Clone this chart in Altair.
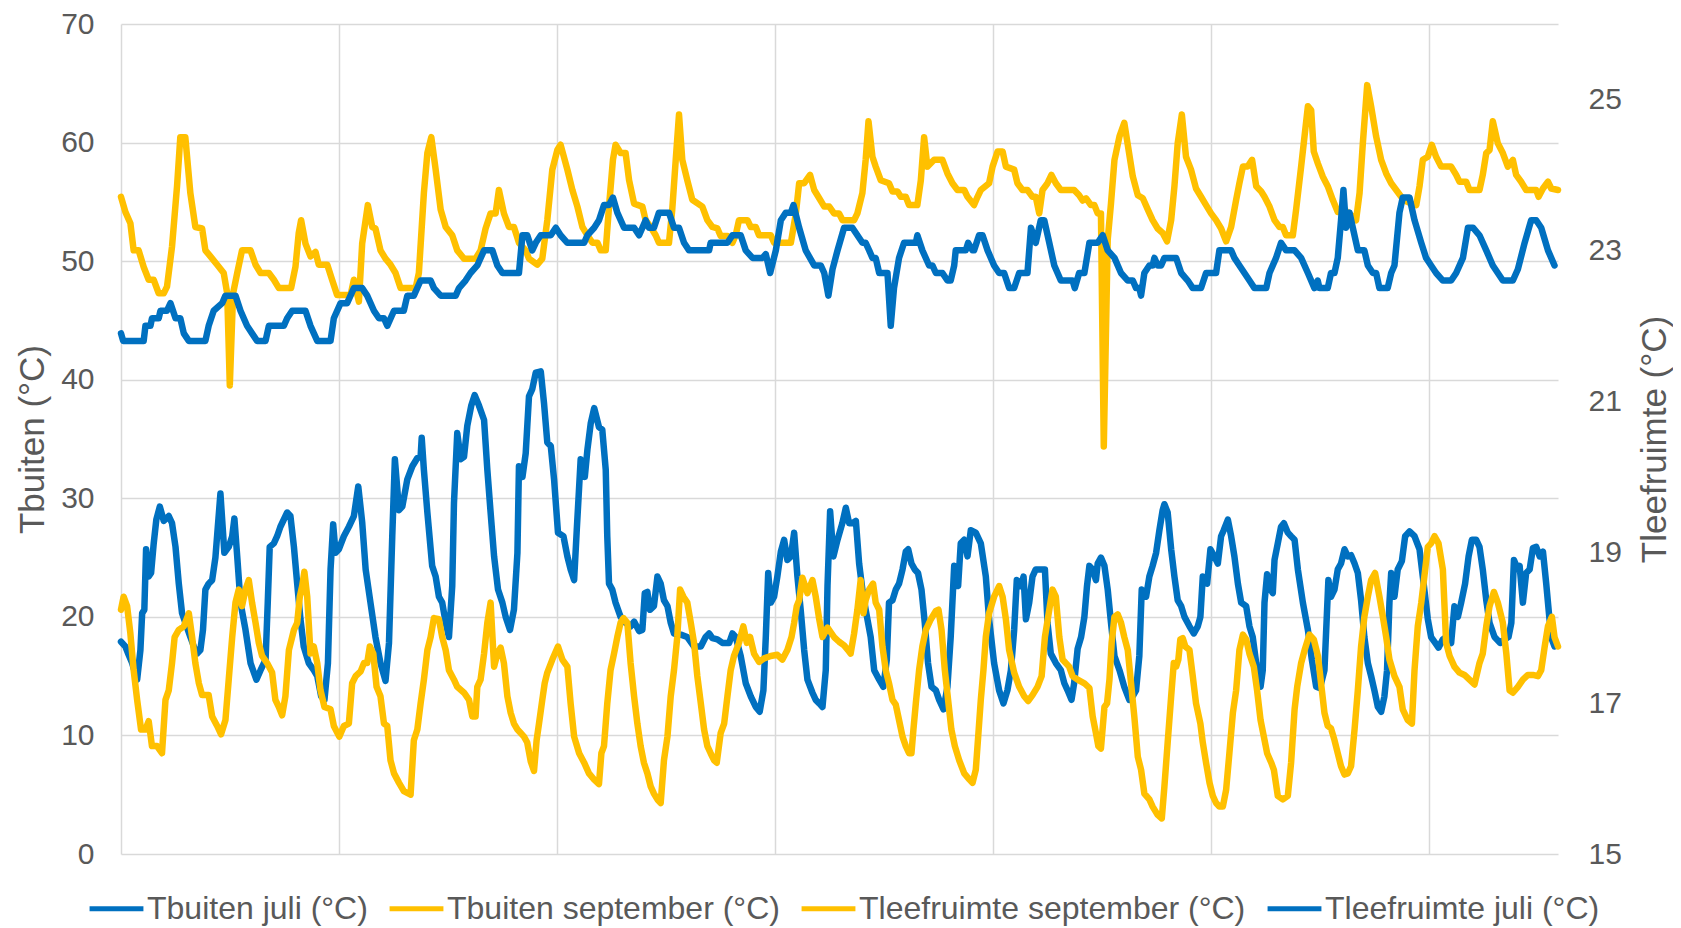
import altair as alt
import pandas as pd

# ---------------- data (hour index, temperature) ----------------
tbuiten_juli = [(0,17.9),(2,17.5),(3.5,16.8),(5.1,16.1),(7.4,14.7),(8.9,17.2),(9.7,20.3),(10.7,20.6),(11.5,25.7),(12.7,23.4),(13.8,23.7),(15,26.2),(16.2,28.2),(17.8,29.3),(19.6,28.1),(21.9,28.5),(23.4,27.9),(25,25.9),(26.5,22.8),(28,20.3),(29.5,19.5),(31.8,18.3),(33.4,17.5),(34.9,16.9),(36.4,17.2),(37.6,18.9),(38.7,22.3),(40.2,22.8),(41.8,23.1),(43.3,25.0),(44.4,27.6),(45.6,30.4),(47.4,25.4),(49.4,25.9),(51,26.8),(52,28.3),(53.3,25.1),(54.8,21.2),(57.1,18.9),(59.4,16.1),(62.1,14.7),(64,15.5),(66.3,16.4),(67.3,21.2),(68.2,25.9),(70.1,26.2),(71.6,26.8),(73.1,27.6),(76.2,28.8),(77.7,28.5),(79.3,25.9),(80.8,22.8),(82.3,19.8),(83.8,17.5),(86.1,16.1),(88.4,15.5),(90,15.0),(91.8,13.3),(93.3,13.0),(94.9,16.1),(96.1,24.0),(97.3,27.8),(98.4,25.4),(99.9,25.7),(102.2,26.8),(104.5,27.6),(106.8,28.5),(108.8,31.0),(110.6,28.0),(112.2,24.0),(114.4,21.2),(116.7,18.3),(119,16.1),(121.3,14.6),(122.9,17.8),(124.4,26.8),(125.6,33.3),(127.5,29.0),(129,29.3),(131.3,31.6),(133.6,32.7),(135.9,33.4),(137.4,33.5),(137.9,35.1),(138.9,32.4),(140.5,28.8),(142.7,24.3),(144.3,23.4),(145.8,21.7),(147.3,21.2),(148.9,19.5),(150.4,18.3),(151.9,22.6),(152.7,29.6),(154.2,35.5),(155.8,33.3),(157.3,33.5),(158.8,36.1),(160.6,37.8),(162.2,38.7),(164.2,37.8),(166.5,36.6),(168,32.4),(169.5,28.8),(171.1,25.1),(172.9,22.3),(174.9,21.2),(176.4,20.0),(178.4,18.9),(180.2,20.6),(181.8,25.4),(182.5,32.7),(184.1,31.8),(185.6,33.8),(187.1,38.6),(188.6,39.2),(190.2,40.6),(192.5,40.7),(194,38.0),(195.5,34.7),(197.1,34.4),(198.6,31.6),(200.4,27.1),(202.9,26.8),(204.7,25.1),(206.2,24.0),(207.8,23.1),(209,27.3),(210.8,33.3),(212.7,31.8),(213.9,34.1),(215.4,36.3),(217,37.6),(219.2,36.0),(220.7,35.8),(222.3,32.4),(223,26.8),(223.8,22.8),(225.3,22.3),(226.8,21.2),(229.1,20.0),(231.4,19.5),(233.7,19.2),(235.3,19.6),(237.6,18.8),(239.1,18.9),(240.2,22.0),(241.4,22.1),(242.6,20.6),(244.4,20.9),(246,23.4),(247.5,22.8),(249,21.4),(250.6,20.9),(252.1,19.5),(253.6,18.6),(256.7,18.5),(259.7,18.3),(262.8,17.5),(265.9,17.5),(268.1,18.3),(269.7,18.6),(271.2,18.2),(273.5,18.1),(275.8,17.8),(278.9,17.8),(280.4,18.6),(281.9,18.3),(284.2,16.7),(286.5,14.4),(288.8,13.3),(291.1,12.4),(292.9,12.0),(294.6,13.8),(295.7,18.3),(296.8,23.7),(298,21.2),(299.5,21.7),(301,23.4),(302.6,25.5),(304.1,26.5),(305.6,24.8),(307.2,25.1),(308.7,27.1),(310.2,23.4),(311.7,20.6),(313.3,17.2),(314.8,14.7),(317.1,13.6),(318.6,13.0),(320.2,12.7),(321.7,12.4),(323.2,15.5),(324,22.6),(325.2,28.9),(326.7,25.1),(328.6,26.5),(330.8,27.9),(332.4,29.2),(333.9,27.9),(335.4,27.9),(337,28.1),(338.5,24.5),(340,22.3),(341.5,20.6),(343.8,18.3),(345.4,15.5),(347.7,14.7),(349.6,14.1),(351.2,16.4),(352.2,21.2),(353.8,21.4),(355.3,22.3),(356.8,22.8),(358.4,24.0),(359.9,25.5),(361,25.7),(362.5,24.5),(364,24.0),(365.5,23.7),(367.1,22.3),(368.6,19.5),(370.1,16.1),(371.7,14.1),(373.7,13.8),(375.2,13.0),(377.2,12.2),(379,14.1),(380.5,18.3),(382.1,24.3),(383.9,22.6),(385.1,26.2),(386.7,26.5),(388.2,25.1),(389.7,27.3),(392,27.1),(394.3,26.2),(396.6,23.4),(398.1,19.8),(400.4,16.1),(402.7,13.8),(404.7,12.7),(406.5,13.8),(408.1,15.5),(409.6,18.9),(410.8,23.1),(412.7,22.6),(413.9,23.4),(415,19.8),(416.5,21.2),(418,23.4),(419.5,24.0),(421.8,24.0),(423.7,24.0),(424.9,19.5),(426.4,16.9),(428.7,16.1),(431,15.5),(432.6,14.4),(434.1,13.8),(435.9,13.0),(437.1,14.4),(438.7,17.3),(440.3,18.3),(441.8,20.0),(443,22.6),(444.1,24.3),(445.6,24.0),(447.1,23.1),(447.9,24.5),(449.4,25.0),(451,24.3),(452.5,22.3),(454,19.5),(455.6,16.7),(457.9,15.5),(460.1,14.1),(462.4,13.0),(464,13.3),(465.5,13.8),(467,16.7),(468.1,22.3),(470.1,21.7),(471.6,23.4),(473.1,24.3),(474.7,25.4),(476.2,27.3),(477.7,29.0),(478.5,29.5),(480,28.8),(481.6,25.7),(483.1,23.4),(484.6,21.4),(486.2,20.9),(487.7,20.0),(490,19.2),(492,18.6),(493.8,19.2),(495,20.0),(496.1,23.4),(498.1,22.8),(499.6,25.7),(501.4,25.1),(503,24.5),(504.5,26.8),(505.7,27.3),(507.6,28.2),(509.1,26.8),(510.6,25.1),(512.2,22.8),(513.7,21.2),(516,20.9),(517.5,19.2),(519,18.3),(520.6,16.1),(522.6,14.1),(523.6,15.5),(524.4,21.2),(525.6,23.6),(527.2,22.3),(528.2,22.0),(529,24.8),(530.5,26.2),(532,27.6),(533.3,27.9),(535.1,27.1),(536.6,26.8),(538.2,26.5),(539.7,24.0),(542,21.2),(544.3,18.9),(546.1,16.4),(548.1,14.1),(549.6,14.0),(550.4,14.4),(551.9,15.5),(553.1,20.6),(553.7,23.1),(554.9,21.7),(556.5,22.3),(558,24.0),(559.5,24.5),(561.1,25.7),(562.6,25.1),(564.1,25.2),(565.7,24.5),(567.2,23.7),(568.7,21.4),(570.2,18.3),(571.8,16.1),(573.3,15.0),(574.8,13.8),(576.4,12.4),(577.9,12.0),(579.4,13.3),(580.6,15.5),(581.7,21.2),(582.5,23.7),(584,21.7),(585.5,24.0),(587.4,24.7),(588.9,26.8),(590.9,27.2),(593.2,26.8),(595.5,25.7),(597,23.4),(599.3,19.8),(600.8,18.3),(602.7,17.8),(604.2,17.4),(606.2,18.1),(607.7,18.3),(610,17.8),(611.5,20.9),(613.1,20.0),(614.6,21.2),(616.4,22.8),(618,25.1),(619.5,26.5),(621.5,26.5),(623,25.9),(624.5,24.0),(626.1,21.4),(627.6,19.5),(629.9,18.3),(632.5,17.8),(634.5,18.1),(636.3,18.3),(637.6,19.5),(638.8,24.8),(640.6,24.0),(641.4,24.3),(642.9,21.2),(644.4,23.7),(646,24.0),(647.5,25.8),(649,25.9),(650.6,25.1),(652.1,25.5),(653.6,22.8),(655.1,19.8),(656.2,18.1),(657.4,17.5)]

tbuiten_september = [(0,20.6),(1.2,21.7),(2.8,20.9),(4.3,18.6),(5.8,15.5),(7.4,13.0),(9.2,10.5),(11.2,10.5),(12.7,11.2),(14.2,9.1),(16.5,9.1),(18.8,8.5),(20.4,13.0),(21.9,13.8),(23.4,16.1),(24.6,18.3),(26.5,18.9),(28.8,19.2),(31.1,20.3),(32.6,18.3),(34.1,16.1),(35.7,14.4),(37.2,13.4),(40.2,13.4),(41.8,11.6),(44.1,10.8),(45.9,10.1),(47.9,11.3),(49.4,14.7),(51,18.3),(52.5,21.2),(54,22.3),(55.5,20.9),(57.1,22.3),(58.6,23.1),(60.1,21.2),(61.7,19.5),(63.2,17.8),(64.7,16.7),(67,16.1),(69.3,15.3),(70.8,13.0),(72.4,12.4),(73.9,11.7),(75.4,13.3),(77,17.2),(79.3,18.9),(80.8,19.5),(82,21.7),(83.1,22.6),(84.1,23.8),(85.4,21.7),(86.9,16.9),(88.4,17.5),(90,16.1),(91.5,13.8),(93.3,12.4),(96.1,12.2),(97.6,10.8),(100.1,9.9),(102.2,10.8),(104.5,11.0),(106,14.4),(107.6,15.0),(109.9,15.4),(111.4,16.1),(112.9,16.1),(114.1,17.5),(115.7,16.9),(117.2,14.1),(119,13.3),(120.6,11.0),(122.1,10.8),(123.6,7.9),(125.2,6.8),(127.5,6.0),(129.7,5.3),(132.8,5.0),(134.3,9.6),(135.9,10.5),(137.4,12.7),(138.9,14.7),(140.5,17.2),(142,18.3),(143.5,19.9),(145.8,19.8),(147.3,18.3),(148.9,17.2),(150.4,15.5),(152.7,14.7),(154.2,14.1),(157.3,13.6),(159.6,13.0),(161.1,11.6),(162.6,11.6),(163.4,14.1),(164.9,14.7),(166.5,16.9),(168,19.5),(169.5,21.2),(171.1,15.8),(172.6,16.9),(174.1,17.4),(175.6,16.1),(177.2,13.3),(178.7,11.9),(180.2,11.0),(181.8,10.5),(183.3,10.2),(184.8,9.9),(186.3,9.4),(187.9,7.8),(189.4,7.0),(190.6,9.6),(191.7,11.0),(193.2,13.0),(194.3,14.4),(195.5,15.3),(197.8,16.4),(200.4,17.5),(202.4,16.4),(204.7,15.8),(206.2,12.7),(207.8,9.9),(210.1,8.5),(212.4,7.7),(214.6,6.8),(216.9,6.3),(219.2,5.9),(220.3,8.5),(221.5,9.1),(223,12.7),(224.5,15.5),(226.1,16.9),(227.6,18.3),(229.1,19.5),(230.4,19.9),(232.2,19.5),(233.7,16.1),(235.3,13.3),(236.8,11.0),(238.3,9.1),(239.8,7.7),(241.4,6.8),(242.9,5.7),(244.4,5.1),(246,4.6),(247.5,4.3),(249,7.9),(250.6,9.9),(252.1,13.3),(253.6,15.5),(255.1,18.3),(256.4,22.3),(257.9,21.7),(259.7,21.2),(261.3,19.5),(262.8,17.8),(264.3,15.0),(265.9,12.7),(267.4,10.5),(268.9,9.1),(270.4,8.5),(272,7.9),(273.2,7.7),(275,10.2),(276.6,11.0),(278.1,13.3),(279.6,15.5),(281.1,16.7),(283.4,17.8),(285.4,19.2),(287,17.8),(288.5,18.3),(290.3,16.9),(292.6,16.2),(294.9,16.5),(298,16.7),(301,16.8),(303.3,16.4),(305.6,17.2),(307.5,18.3),(308.7,19.5),(309.9,20.9),(311,21.4),(312.5,23.3),(314.8,22.0),(317.1,23.1),(318.6,21.7),(320.2,19.8),(321.7,18.3),(324,19.1),(327,18.3),(329.3,17.9),(331.6,17.6),(333.4,17.2),(334.6,16.9),(336.2,18.6),(337.7,20.6),(339.2,23.1),(340.5,20.3),(341.5,21.4),(343.1,22.3),(344.9,22.8),(346.1,21.2),(347.7,20.6),(349.2,17.5),(350.7,15.5),(352.2,14.4),(353.8,13.0),(355.3,12.6),(356.8,11.3),(358.4,9.9),(359.9,9.1),(361.4,8.5),(362.5,8.5),(363.4,10.5),(364.5,12.7),(366,15.5),(367.5,17.5),(369.1,18.9),(371.4,19.8),(373.7,20.5),(374.9,20.6),(376.3,18.9),(377.8,15.5),(379.3,13.0),(380.8,10.5),(382.4,9.1),(384.4,7.9),(386.7,6.8),(389,6.3),(390.5,6.0),(392,7.1),(393.1,9.9),(394.3,13.0),(395.5,15.5),(396.6,18.3),(398.1,20.3),(400.4,21.7),(402.7,22.6),(404.3,21.7),(405.8,19.8),(407.3,17.2),(409.6,15.3),(411.9,14.1),(414.2,13.3),(416,12.9),(418,13.4),(420.3,14.1),(422.2,15.0),(423.7,18.3),(425.7,20.6),(427.2,22.3),(428.7,21.7),(430.3,18.3),(431.8,16.4),(433.3,16.1),(434.8,15.8),(436.4,15.0),(438.7,14.7),(441.8,14.4),(444.1,14.0),(445.6,11.6),(447.1,10.2),(448.2,9.1),(449.4,8.9),(451,12.4),(452.2,12.7),(453.3,14.7),(454.3,17.8),(455.6,20.0),(457.1,20.2),(458.6,19.5),(460.1,18.3),(461.7,17.2),(463.2,14.4),(464.7,11.6),(466.3,8.2),(467.8,7.1),(469.3,5.1),(471.6,4.6),(473.1,4.0),(475.4,3.3),(477.3,3.0),(478.5,5.7),(480,9.4),(481.6,13.3),(482.8,16.1),(483.9,15.8),(484.9,16.4),(485.8,18.1),(486.9,18.2),(488.1,17.5),(490,17.2),(491.5,15.0),(493,12.7),(495,11.0),(496.1,9.4),(497.6,7.7),(499.2,6.0),(500.7,4.9),(502.2,4.3),(503.7,4.0),(505.3,4.0),(506.8,5.4),(508.3,8.5),(509.9,11.9),(511.4,13.8),(512.9,17.2),(514.5,18.5),(516,18.1),(517.5,16.9),(519.5,15.8),(521,13.8),(522.6,11.3),(524.1,9.9),(525.6,8.5),(527.5,7.7),(528.7,7.1),(530.5,4.9),(532.8,4.6),(535.1,4.9),(536.6,7.7),(538.2,12.2),(539.4,14.1),(541.2,16.1),(542.8,17.2),(545,18.5),(547,18.1),(548.9,16.7),(550.4,14.3),(551.9,11.9),(553.4,10.8),(554.9,10.6),(556.5,9.6),(558,8.5),(559.5,7.4),(561.1,6.7),(562.6,6.8),(564.1,7.4),(565.7,10.5),(567.2,13.8),(568.7,17.5),(570.2,20.0),(571.8,21.7),(573.3,23.1),(575.1,23.7),(577.1,21.7),(578.7,20.0),(580.2,18.3),(581.7,16.4),(584,15.0),(586.3,14.1),(587.8,12.2),(590.1,11.3),(592,11.0),(593.2,15.5),(594.7,19.2),(596.3,21.2),(598.1,24.0),(599.3,25.9),(600.8,26.2),(602.4,26.8),(604.2,26.2),(606.2,24.0),(607.7,17.8),(609.3,16.7),(611.5,15.8),(613.8,15.3),(616.1,15.1),(618.4,14.7),(620.7,14.3),(623,16.1),(624.5,16.9),(626.1,19.2),(627.6,20.9),(629.6,22.1),(631.4,21.2),(633.7,19.5),(635.3,16.9),(636.8,13.8),(638.3,13.6),(640.6,14.1),(642.9,14.7),(645.2,15.1),(647.5,15.1),(649.8,15.0),(651.3,15.5),(652.9,17.5),(654.4,19.2),(656.2,20.0),(657.4,18.3),(659,17.5)]

tleefruimte_september = [(0,23.71),(2,23.51),(4.3,23.36),(5.8,23.0),(8.1,23.0),(10.4,22.78),(12.7,22.61),(15,22.61),(17.3,22.43),(19.6,22.43),(21.1,22.52),(23.4,23.05),(25.7,23.85),(27.2,24.5),(29.5,24.5),(31.8,23.76),(34.1,23.31),(37.2,23.29),(38.7,23.0),(41,22.92),(44.1,22.81),(47.1,22.7),(48.7,22.43),(49.9,21.21),(51.4,22.43),(53.3,22.7),(55.5,23.0),(59.4,23.0),(61.7,22.81),(64,22.7),(67.8,22.7),(70.1,22.61),(72.4,22.5),(78,22.5),(80,22.78),(81.5,23.23),(82.6,23.4),(84.6,23.09),(86.9,22.92),(89.2,22.98),(90.7,22.81),(94.6,22.81),(96.8,22.61),(99.1,22.41),(105.3,22.41),(106.8,22.61),(109.1,22.32),(110.6,23.09),(113.2,23.6),(115.2,23.31),(116.7,23.29),(119,23.0),(121.3,22.89),(123.6,22.81),(125.9,22.7),(128.2,22.5),(135.1,22.5),(136.6,22.7),(138.9,23.76),(140.5,24.29),(142.3,24.5),(144.3,24.07),(146.6,23.54),(148.9,23.31),(151.9,23.2),(154.2,23.0),(157.3,22.89),(162.6,22.89),(164.9,23.0),(167.2,23.29),(169.5,23.49),(171.8,23.49),(173.3,23.8),(175.6,23.49),(177.9,23.31),(180.2,23.31),(182.5,23.1),(185.6,23.0),(187.1,22.89),(190.9,22.81),(193.2,22.89),(195.5,23.4),(197.8,24.07),(200.1,24.33),(201.6,24.4),(204.7,24.07),(207,23.8),(209.3,23.58),(211.6,23.31),(213.9,23.2),(216.2,23.1),(218.5,23.1),(220,23.0),(222.3,23.0),(223.8,23.58),(225.6,24.2),(226.8,24.4),(229.1,24.29),(231.4,24.29),(233,23.93),(235.3,23.62),(239.1,23.58),(240.6,23.4),(242.9,23.31),(245.2,23.2),(246.7,23.1),(251.3,23.1),(252.8,23.54),(254.4,24.2),(255.9,24.8),(257.4,24.2),(259.7,23.93),(262,23.67),(266.6,23.58),(268.9,23.4),(271.2,23.31),(273.5,23.29),(275,23.19),(278.1,23.19),(280.4,23.1),(281.9,23.2),(283.4,23.4),(287.3,23.4),(288.8,23.31),(291.1,23.31),(292.6,23.2),(298,23.2),(299.5,23.1),(307.2,23.1),(309.5,23.49),(311,23.89),(313.3,23.89),(316,24.0),(317.9,23.8),(320.2,23.69),(322.5,23.58),(324.8,23.58),(327,23.49),(329.3,23.49),(330.9,23.4),(336.2,23.4),(337.7,23.49),(340,23.76),(341.5,24.2),(342.8,24.71),(344.6,24.24),(346.1,24.11),(348.4,23.93),(352.2,23.89),(353.8,23.78),(356.1,23.78),(357.6,23.71),(359.9,23.71),(361.4,23.6),(365.2,23.6),(366.8,23.93),(368.3,24.5),(369.8,24.11),(372.9,24.2),(376.7,24.2),(379,24.02),(381.3,23.89),(383.6,23.8),(386.7,23.8),(388.2,23.71),(391.2,23.6),(392.8,23.71),(394.3,23.8),(398.1,23.89),(399.7,24.11),(402,24.31),(404.3,24.31),(405.8,24.11),(409.6,24.07),(411.1,23.89),(413.4,23.8),(415.7,23.8),(418,23.71),(419.5,23.71),(421.1,23.49),(422.6,23.8),(424.9,23.89),(426.7,24.0),(428.7,23.89),(431,23.8),(437.1,23.8),(439.4,23.73),(441,23.66),(442.6,23.69),(444.8,23.6),(446.4,23.6),(447.9,23.49),(449.4,23.49),(450.7,20.4),(452.5,23.14),(454,23.62),(455.6,24.2),(457.9,24.51),(460.1,24.69),(461.7,24.4),(464,23.98),(466.3,23.73),(468.6,23.69),(470.9,23.54),(473.1,23.4),(475.4,23.29),(477.7,23.23),(479.7,23.12),(481.6,23.4),(483.1,23.85),(484.6,24.42),(486.5,24.8),(488.4,24.24),(490.7,24.07),(493,23.82),(495.3,23.71),(497.6,23.6),(499.9,23.49),(502.2,23.4),(504.5,23.29),(506.8,23.12),(509.1,23.31),(511.4,23.67),(512.9,23.89),(514.5,24.11),(516.7,24.11),(518.7,24.2),(520.6,23.85),(522.9,23.78),(524.4,23.71),(526.7,23.58),(529,23.4),(531.3,23.31),(532.8,23.31),(534.3,23.2),(537.4,23.2),(538.9,23.54),(541.2,24.11),(543.1,24.6),(544.3,24.91),(545.8,24.86),(547,24.31),(548.9,24.15),(551.1,23.98),(553.4,23.85),(555.7,23.67),(558,23.51),(560.3,23.58),(562.6,23.49),(564.9,23.45),(566.4,23.4),(568,23.76),(569.5,24.42),(571.5,25.19),(573.3,24.91),(575.6,24.51),(577.9,24.2),(580.2,24.02),(582.5,23.89),(584.8,23.8),(587.1,23.71),(589.4,23.65),(591.7,23.62),(594,23.6),(595.5,23.85),(597,24.2),(599.3,24.24),(601.1,24.4),(603.1,24.24),(605.4,24.11),(610,24.11),(612.3,24.0),(613.8,23.91),(616.9,23.91),(618.4,23.8),(623,23.8),(624.5,24.0),(626.1,24.29),(627.6,24.33),(629.1,24.71),(631.4,24.42),(633.7,24.29),(636,24.11),(638.3,24.2),(639.8,24.0),(642.1,23.91),(644.4,23.8),(649,23.8),(650.1,23.71),(652.1,23.82),(654.4,23.91),(655.9,23.82),(659,23.8)]

tleefruimte_juli = [(0,21.9),(1,21.8),(10.4,21.8),(11.2,22.0),(13.5,22.0),(14.2,22.1),(17.3,22.1),(18.1,22.2),(21.1,22.2),(22.7,22.3),(25,22.1),(27.2,22.1),(28.8,21.9),(31.1,21.8),(38.7,21.8),(40.2,22.0),(42.5,22.2),(46.4,22.3),(47.9,22.4),(52.5,22.4),(54.8,22.2),(57.8,22.0),(60.1,21.9),(62.4,21.8),(66.3,21.8),(67.8,22.0),(74.7,22.0),(76.2,22.1),(78.5,22.2),(84.6,22.2),(86.9,22.0),(90,21.8),(96.1,21.8),(97.6,22.1),(100.7,22.3),(103.7,22.3),(106.8,22.5),(110.6,22.5),(112.9,22.4),(116,22.2),(118.3,22.1),(120.6,22.1),(122.1,22.0),(125.2,22.2),(129.7,22.2),(131.3,22.4),(134.3,22.4),(137.4,22.6),(142,22.6),(143.5,22.5),(146.6,22.4),(153.5,22.4),(155,22.5),(158,22.6),(160.3,22.7),(163.4,22.8),(166.5,23.0),(170.3,23.0),(172.6,22.8),(174.9,22.7),(182.5,22.7),(184.1,23.2),(186.3,23.2),(188.6,23.0),(190.2,23.1),(192.5,23.2),(197.1,23.2),(199.4,23.3),(201.6,23.2),(204.7,23.1),(212.4,23.1),(213.9,23.2),(217,23.3),(219.2,23.4),(221.5,23.6),(223.8,23.6),(225.6,23.7),(227.6,23.5),(230.7,23.3),(235.3,23.3),(237.6,23.2),(240.6,23.4),(242.1,23.3),(244.4,23.3),(246.7,23.5),(251.3,23.5),(253.6,23.3),(255.9,23.3),(258.2,23.1),(260.5,23.0),(269.7,23.0),(270.4,23.1),(278.1,23.1),(280.4,23.2),(284.2,23.2),(286.5,23.0),(289.6,22.9),(294.2,22.9),(295.7,22.95),(297.7,22.7),(300.3,23.0),(302.6,23.4),(304.9,23.5),(307.2,23.5),(308.4,23.6),(311,23.3),(314,23.0),(317.9,22.8),(320.9,22.8),(322.5,22.7),(324.4,22.4),(326.3,22.75),(328.6,23.0),(331.6,23.3),(335.4,23.3),(337.7,23.2),(340,23.1),(341.5,23.1),(343.1,23.0),(344.6,22.9),(346.1,22.9),(347.7,22.7),(351.5,22.7),(353,22.0),(354.5,22.5),(356.8,22.9),(359.1,23.1),(364.5,23.1),(365.2,23.2),(367.5,23.0),(370.6,22.8),(372.1,22.8),(373.7,22.7),(376.7,22.7),(379,22.6),(380.5,22.6),(382.1,22.8),(382.8,23.0),(387.4,23.0),(388.5,23.1),(390.5,23.0),(391.2,23.0),(393.5,23.2),(395.1,23.2),(397.4,23.0),(400.4,22.8),(402.7,22.7),(405,22.7),(407.3,22.5),(409.6,22.5),(411.9,22.7),(415.7,22.7),(417.3,23.3),(419.5,23.1),(421.8,23.4),(423.4,23.4),(425.7,23.1),(428,22.8),(431,22.6),(436.4,22.6),(437.4,22.5),(439.4,22.7),(441.8,22.7),(444.1,23.1),(447.9,23.1),(450.2,23.2),(452.5,23.0),(455.6,22.9),(458.6,22.7),(461.7,22.6),(464,22.6),(465.5,22.5),(467,22.5),(467.8,22.4),(469.3,22.7),(471.6,22.8),(473.1,22.8),(473.9,22.9),(475.4,22.8),(477,22.8),(478.5,22.9),(483.9,22.9),(486.2,22.7),(489.2,22.6),(491.5,22.5),(495.3,22.5),(497.6,22.7),(502.2,22.7),(503.7,23.0),(509.1,23.0),(510.6,22.9),(512.9,22.8),(515.2,22.7),(517.5,22.6),(519.8,22.5),(525.2,22.5),(526.7,22.7),(529.7,22.9),(532,23.1),(534.3,23.0),(538.2,23.0),(541.2,22.9),(544.3,22.7),(547.3,22.5),(548.8,22.6),(549.6,22.5),(553.4,22.5),(554.9,22.7),(556.5,22.7),(558,22.9),(559.5,23.4),(560.6,23.8),(561.8,23.3),(563.4,23.5),(564.9,23.3),(567.2,23.0),(570.2,23.0),(571.8,22.8),(574.1,22.7),(575.6,22.7),(577.1,22.5),(580.9,22.5),(582.5,22.7),(584,22.8),(586.3,23.5),(587.8,23.7),(590.9,23.7),(593.2,23.4),(596.3,23.1),(598.5,22.9),(600.8,22.8),(603.1,22.7),(606.2,22.6),(610,22.6),(612.3,22.7),(615.4,22.9),(617.7,23.3),(620,23.3),(623,23.2),(626.1,23.0),(629.1,22.8),(631.4,22.7),(633.7,22.6),(638.3,22.6),(640.6,22.75),(643.7,23.1),(646.7,23.4),(649,23.4),(651.3,23.3),(654.4,23.0),(657.4,22.8)]

series_names = ["Tbuiten juli (°C)", "Tbuiten september (°C)",
                "Tleefruimte september (°C)", "Tleefruimte juli (°C)"]
series_colors = ["#0070C0", "#FFC000", "#FFC000", "#0070C0"]
left_ticks = [0, 10, 20, 30, 40, 50, 60, 70]
right_ticks = [15, 17, 19, 21, 23, 25]
x_grid = [0, 100, 200, 300, 400, 500, 600]

FONT = "Liberation Sans"
GREY = "#595959"
GRID = "#D9D9D9"


def frame(pairs, name):
    return pd.DataFrame({"uur": [p[0] for p in pairs],
                         "temp": [p[1] for p in pairs],
                         "reeks": name})


color = alt.Color(
    "reeks:N",
    scale=alt.Scale(domain=series_names, range=series_colors),
    legend=alt.Legend(
        orient="none", legendX=-34, legendY=855, direction="horizontal",
        columns=4, title=None, symbolType="stroke", symbolSize=2900,
        symbolStrokeWidth=5, labelFont=FONT, labelFontSize=32,
        labelColor=GREY, labelLimit=800, labelOffset=1, columnPadding=11,
        padding=0,
    ),
)

x = alt.X(
    "uur:Q",
    scale=alt.Scale(domain=[0, 659], nice=False, zero=False),
    axis=alt.Axis(values=x_grid, labels=False, ticks=False, domain=False,
                  grid=True, gridColor=GRID, gridWidth=1.5, title=None),
)

left_axis = alt.Axis(
    orient="left", values=left_ticks, grid=True, gridColor=GRID, gridWidth=1.5,
    domain=False, ticks=False, labelFont=FONT, labelFontSize=30,
    labelColor=GREY, labelPadding=27, title="Tbuiten (°C)", titleFont=FONT,
    titleFontSize=35, titleFontWeight="normal", titleColor=GREY,
    titleAngle=270, titleX=-89, titleY=415, titleAlign="center",
    titleBaseline="middle",
)
right_axis = alt.Axis(
    orient="right", values=right_ticks, grid=False, domain=False, ticks=False,
    labelFont=FONT, labelFontSize=30, labelColor=GREY, labelPadding=30,
    title="Tleefruimte (°C)", titleFont=FONT, titleFontSize=35,
    titleFontWeight="normal", titleColor=GREY, titleAngle=270, titleX=96,
    titleY=415, titleAlign="center", titleBaseline="middle",
)

yl = alt.Y("temp:Q", scale=alt.Scale(domain=[0, 70], nice=False, zero=False),
           axis=left_axis)
yr = alt.Y("temp:Q", scale=alt.Scale(domain=[15, 26], nice=False, zero=False),
           axis=right_axis)


def line(df, y):
    return alt.Chart(df).mark_line(
        strokeWidth=6.5, strokeCap="round", strokeJoin="round"
    ).encode(x=x, y=y, color=color)


left = alt.layer(line(frame(tbuiten_juli, series_names[0]), yl),
                 line(frame(tbuiten_september, series_names[1]), yl))
right = alt.layer(line(frame(tleefruimte_september, series_names[2]), yr),
                  line(frame(tleefruimte_juli, series_names[3]), yr))

chart = (
    alt.layer(left, right)
    .resolve_scale(y="independent")
    .properties(
        width=1437, height=830,
        padding={"left": 113, "top": 16, "right": 115, "bottom": 74},
        autosize=alt.AutoSizeParams(type="none"),
        background="white",
    )
    .configure_view(stroke=None)
)

chart.save("out.html", embed_options={"renderer": "svg", "actions": False})
